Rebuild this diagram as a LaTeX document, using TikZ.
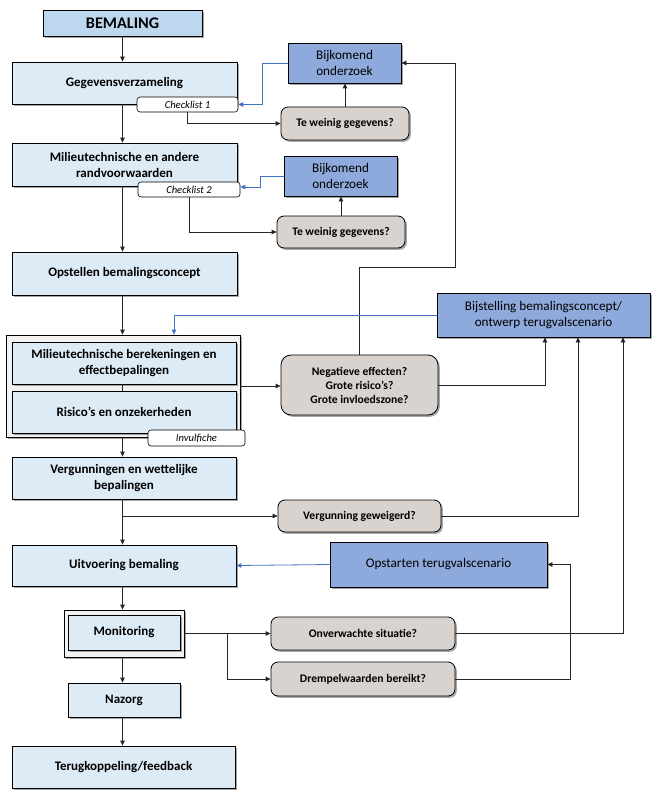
\documentclass[tikz,border=0pt]{standalone}
\usepackage{fontspec}
\setmainfont{Carlito}
\usetikzlibrary{arrows.meta,shadows,positioning}
\definecolor{lblue}{HTML}{DDEBF7}
\definecolor{hblue}{HTML}{BDD7EE}
\definecolor{mblue}{HTML}{8EA9DB}
\definecolor{wgray}{HTML}{D9D3D0}
\definecolor{ggray}{HTML}{F2F2F2}
\definecolor{lnblue}{HTML}{4472C4}
\tikzset{
  x=1pt,y=-1pt,
  shad/.style={drop shadow={shadow xshift=1.8pt,shadow yshift=-1.8pt,fill=black,opacity=0.35}},
  mainbox/.style={draw=black,line width=0.8pt,fill=lblue,shad,align=center,inner sep=2pt,
    font=\fontsize{13}{16}\selectfont\bfseries},
  bluebox/.style={draw=black,line width=0.8pt,fill=mblue,shad,align=center,inner sep=2pt,
    font=\fontsize{13.2}{16}\selectfont},
  qbox/.style={draw=black,line width=0.8pt,fill=wgray,rounded corners=7pt,shad,align=center,inner sep=2pt,
    font=\fontsize{11.6}{14}\selectfont\bfseries},
  chk/.style={draw=black,line width=0.6pt,fill=white,rounded corners=3pt,inner sep=1pt,
    font=\fontsize{10.6}{12}\selectfont\itshape},
  grpbox/.style={draw=black,line width=0.8pt,fill=ggray,shad},
  arr/.style={draw=black!85,line width=0.8pt,-{Triangle[length=5pt,width=4.5pt]}},
  barr/.style={draw=lnblue,line width=0.8pt,-{Triangle[length=5pt,width=4.5pt]}},
  ln/.style={draw=black!85,line width=0.8pt},
}
\begin{document}
\begin{tikzpicture}
\useasboundingbox[fill=white] (0,0) rectangle (658,797);
% left column
\node[mainbox,fill=hblue,minimum width=159pt,minimum height=26pt,font=\fontsize{16.2}{18}\selectfont\bfseries] (bem) at (122.5,23) {BEMALING};
\node[mainbox,minimum width=225pt,minimum height=42pt] (geg) at (124.5,83) {Gegevensverzameling};
\node[chk,minimum width=101pt,minimum height=15pt] (chk1) at (187.5,104.5) {Checklist 1};
\node[mainbox,minimum width=225pt,minimum height=43pt] (mil) at (124.5,164.5) {Milieutechnische en andere\\randvoorwaarden};
\node[chk,minimum width=102pt,minimum height=15pt] (chk2) at (189,189.5) {Checklist 2};
\node[mainbox,minimum width=225pt,minimum height=43pt] (ops) at (124.5,273.5) {Opstellen bemalingsconcept};
\node[grpbox,minimum width=234pt,minimum height=102pt] (grp) at (123,386) {};
\node[mainbox,minimum width=224pt,minimum height=42pt] (ber) at (124,363) {Milieutechnische berekeningen en\\effectbepalingen};
\node[mainbox,minimum width=224pt,minimum height=42pt] (ris) at (124,412) {Risico's en onzekerheden};
\node[chk,minimum width=97pt,minimum height=16pt] (inv) at (196.5,438) {Invulfiche};
\node[mainbox,minimum width=224pt,minimum height=42pt] (ver) at (124,478) {Vergunningen en wettelijke\\bepalingen};
\node[mainbox,minimum width=224pt,minimum height=41pt] (uit) at (124,565.5) {Uitvoering bemaling};
\node[grpbox,minimum width=120pt,minimum height=47pt] (mgrp) at (124,633.5) {};
\node[mainbox,minimum width=112pt,minimum height=35pt] (mon) at (124,632.5) {Monitoring};
\node[mainbox,minimum width=112pt,minimum height=34pt] (naz) at (124,700) {Nazorg};
\node[mainbox,minimum width=223pt,minimum height=42pt] (ter) at (123.5,767) {Terugkoppeling/feedback};
% right side
\node[bluebox,minimum width=113pt,minimum height=40pt] (bij1) at (344.5,63) {Bijkomend\\onderzoek};
\node[qbox,minimum width=128pt,minimum height=33pt] (tw1) at (345,123.5) {Te weinig gegevens?};
\node[bluebox,minimum width=113pt,minimum height=40pt] (bij2) at (340.5,176) {Bijkomend\\onderzoek};
\node[qbox,minimum width=128pt,minimum height=32pt] (tw2) at (341,232) {Te weinig gegevens?};
\node[bluebox,minimum width=213pt,minimum height=44pt] (bst) at (543.5,315) {Bijstelling bemalingsconcept/\\ontwerp terugvalscenario};
\node[qbox,minimum width=157pt,minimum height=60pt,rounded corners=10pt] (neg) at (359.5,385) {Negatieve effecten?\\Grote risico's?\\Grote invloedszone?};
\node[qbox,minimum width=163pt,minimum height=32pt] (vg) at (359.5,516) {Vergunning geweigerd?};
\node[bluebox,minimum width=217pt,minimum height=45pt] (ops2) at (438.5,564.5) {Opstarten terugvalscenario};
\node[qbox,minimum width=184pt,minimum height=33pt] (onv) at (363,633.5) {Onverwachte situatie?};
\node[qbox,minimum width=184pt,minimum height=34pt] (drm) at (363,679) {Drempelwaarden bereikt?};
\coordinate (c1) at (455,267);
% main flow
\draw[arr] (bem.south) -- (bem.south |- geg.north);
\draw[arr] (geg.south -| bem.south) -- (mil.north -| bem.south);
\draw[arr] (mil.south -| bem.south) -- (ops.north -| bem.south);
\draw[arr] (ops.south -| bem.south) -- (grp.north -| bem.south);
\draw[ln] (ber.south -| bem.south) -- (ris.north -| bem.south);
\draw[arr] (grp.south -| bem.south) -- (ver.north -| bem.south);
\draw[arr] (ver.south -| bem.south) -- (uit.north -| bem.south);
\draw[arr] (ver.south -| bem.south) |- (vg.west);
\draw[arr] (uit.south -| bem.south) -- (mgrp.north -| bem.south);
\draw[arr] (mgrp.south -| bem.south) -- (naz.north -| bem.south);
\draw[arr] (naz.south -| bem.south) -- (ter.north -| bem.south);
% checklists
\draw[arr] (chk1.south) |- (tw1.west);
\draw[arr] (tw1.north) -- (tw1.north |- bij1.south);
\draw[barr] (bij1.west) -- ++(-25,0) |- (chk1.east);
\draw[arr] (chk2.south) |- (tw2.west);
\draw[arr] (tw2.north) -- (tw2.north |- bij2.south);
\draw[barr] (bij2.west) -- ++(-23,0) |- ([yshift=2.5pt]chk2.east);
% negatieve
\draw[arr] (neg.north) |- (c1) |- (bij1.east);
\draw[barr] (bst.west) -| ([xshift=51pt]grp.north);
\draw[arr] (grp.east) -- (grp.east -| neg.west);
\draw[arr] (neg.east) -| ([xshift=1.5pt]bst.south);
\draw[arr] (vg.east) -| ([xshift=34.5pt]bst.south);
\draw[arr] (onv.east) -| ([xshift=79.5pt]bst.south);
% monitoring
\draw[arr] (mgrp.east) -- (onv.west);
\draw[arr] ([xshift=43pt]mgrp.east) |- (drm.west);
\draw[arr] (drm.east) -| ([xshift=23pt]ops2.east) -- (ops2.east);
\draw[barr] (ops2.west) -- (uit.east);
\end{tikzpicture}
\end{document}
